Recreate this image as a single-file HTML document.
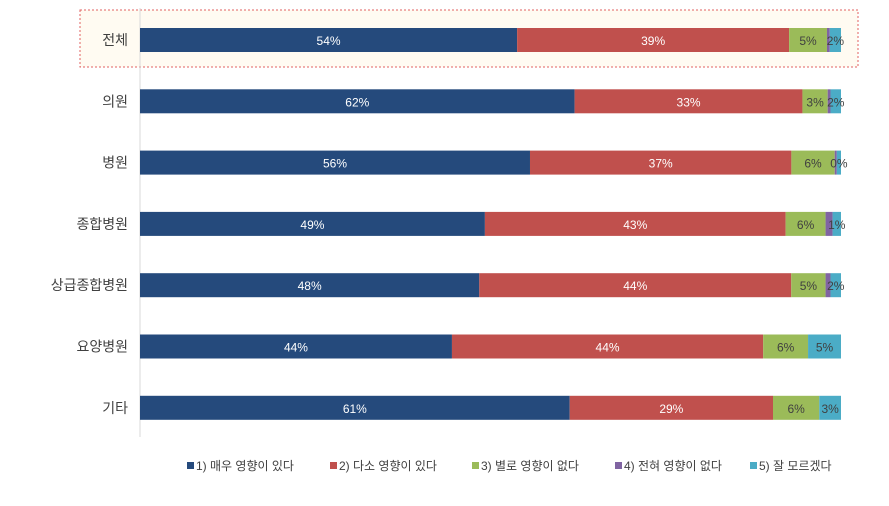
<!DOCTYPE html>
<html><head><meta charset="utf-8"><style>
body{margin:0;background:#fff;font-family:"Liberation Sans","Noto Sans CJK KR",sans-serif;}
</style></head><body>
<svg id="chart" width="889" height="501" xmlns="http://www.w3.org/2000/svg"></svg>
<script>
const categories=["전체","의원","병원","종합병원","상급종합병원","요양병원","기타"];
const s1=[53.8,62.0,55.8,49.2,48.4,44.5,61.3];
const s2=[38.8,32.5,37.4,42.9,44.5,44.4,29.0];
const s3=[5.4,3.6,6.2,5.7,4.9,6.4,6.6];
const s4=[0.4,0.4,0.3,1.0,0.7,0,0];
const s5=[1.6,1.5,0.6,1.2,1.5,4.7,3.1];
const l1=["54%","62%","56%","49%","48%","44%","61%"];
const l2=["39%","33%","37%","43%","44%","44%","29%"];
const l3=["5%","3%","6%","6%","5%","6%","6%"];
const l5=["2%","2%","0%","1%","2%","5%","3%"];
const seriesNames=["1) 매우 영향이 있다","2) 다소 영향이 있다","3) 별로 영향이 없다","4) 전혀 영향이 없다","5) 잘 모르겠다"];
const colors=["#254A7C","#C0504D","#9BBB59","#8064A2","#4BACC6"];
const svg=document.getElementById('chart');
const NS="http://www.w3.org/2000/svg";
function mk(t,a,p){const e=document.createElementNS(NS,t);for(const k in a)e.setAttribute(k,a[k]);(p||svg).appendChild(e);return e;}
const x0=140,W=701;
const xs=v=>x0+v/100*W;
const yc=i=>40+i*61.3;
const hl=mk('rect',{x:80,y:10,width:778,height:57,fill:'#FFFBF2',stroke:'#E06060','stroke-dasharray':'2,2','stroke-width':1});


const ax=mk('line',{x1:140,y1:8,x2:140,y2:437,stroke:'#D9D9D9'});


const series=[s1,s2,s3,s4,s5];
const labels=[l1,l2,l3,null,l5];
const tcol=["#fff","#fff","#404040",null,"#404040"];
categories.forEach((c,i)=>{
  const tot=series.reduce((a,s)=>a+s[i],0);
  let acc=0;
  const cl=mk('text',{x:128,y:yc(i)+5,'text-anchor':'end','font-size':14,fill:'#404040'});
  cl.textContent=c;
  
  
  series.forEach((s,k)=>{
    const v=s[i]/tot*100;
    const xa=xs(acc),xb=xs(acc+v);acc+=v;
    if(v<=0)return;
    const r=mk('rect',{x:xa,y:yc(i)-12,width:xb-xa,height:24,fill:colors[k]});
    
    
    if(labels[k]){
      const t=mk('text',{x:(xa+xb)/2,y:yc(i)+5,'text-anchor':'middle','font-size':12,fill:tcol[k]});
      t.textContent=labels[k][i];
      
      
    }
  });
});
let lx=187;
const lw=[143,142,143,135,100];
seriesNames.forEach((n,k)=>{
  const g=mk('g',{});
  
  
  mk('rect',{x:lx,y:462,width:7,height:7,fill:colors[k]},g);
  const t=mk('text',{x:lx+9,y:470,'font-size':12,fill:'#404040'},g);
  t.textContent=n;
  lx+=lw[k];
});
</script>
</body></html>
